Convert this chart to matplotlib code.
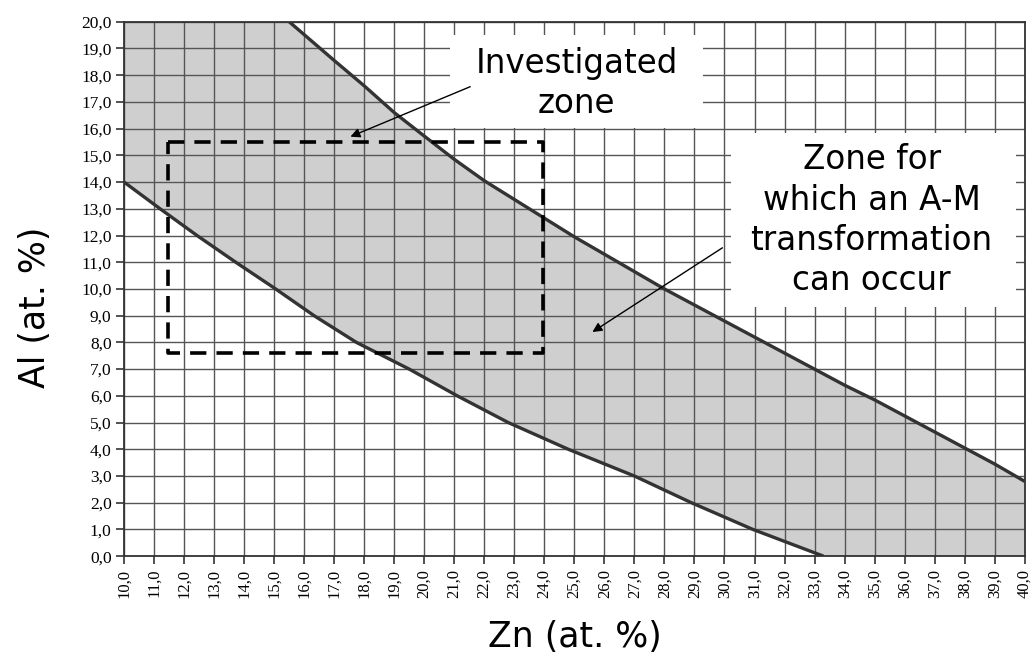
import matplotlib
matplotlib.use("Agg")
import matplotlib.pyplot as plt
from matplotlib.patches import Rectangle

# ---- data ----
lower_x = [10.0, 11.2, 12.43, 13.72, 15.05, 16.33, 17.74, 19.5, 21.1, 22.8, 24.8, 27.0, 28.9, 30.95, 33.3]
lower_y = [14.0, 13.0, 12.0, 11.0, 10.0, 9.0, 8.0, 7.0, 6.0, 5.0, 4.0, 3.0, 2.0, 1.0, 0.0]

upper_x = [15.5, 17.0, 18.0, 19.0, 20.0, 21.0, 22.0, 23.0, 24.0, 25.0, 26.0, 27.0, 28.0, 29.0, 30.0,
           31.0, 32.0, 33.0, 34.0, 35.0, 36.0, 37.0, 38.0, 39.0, 40.0]
upper_y = [20.0, 18.55, 17.6, 16.6, 15.72, 14.85, 14.05, 13.35, 12.65, 11.95, 11.3, 10.65, 10.0, 9.4, 8.8,
           8.2, 7.6, 7.0, 6.4, 5.85, 5.25, 4.65, 4.05, 3.45, 2.8]

investigated_zn = [11.45, 23.95]
investigated_al = [7.62, 15.5]

x_ticks = list(range(10, 41))
y_ticks = list(range(0, 21))

label_investigated = "Investigated\nzone"
label_am = "Zone for\nwhich an A-M\ntransformation\ncan occur"
xlabel = "Zn (at. %)"
ylabel = "Al (at. %)"

# ---- figure ----
fig = plt.figure(figsize=(10.34, 6.59), dpi=100)
ax = fig.add_axes([0.12, 0.156, 0.871, 0.811])
xmin, xmax, ymin, ymax = 10, 40, 0, 20
ax.set_xlim(xmin, xmax)
ax.set_ylim(ymin, ymax)

# shaded band
poly_x = list(lower_x) + [xmax] + upper_x[::-1] + [xmin]
poly_y = list(lower_y) + [ymin] + upper_y[::-1] + [ymax]
ax.fill(poly_x, poly_y, color="#cfcfcf", lw=0, zorder=1)

# grid
ax.set_xticks(x_ticks)
ax.set_yticks(y_ticks)
ax.grid(True, color="#555555", lw=1.0, zorder=2)
ax.set_axisbelow(False)
for gl in ax.get_xgridlines() + ax.get_ygridlines():
    gl.set_zorder(2)

# white label boxes (hide grid)
ax.add_patch(Rectangle((20.86, 16.03), 29.27 - 20.86, 19.51 - 16.03, facecolor="white",
                       edgecolor="none", zorder=3))
ax.add_patch(Rectangle((30.23, 9.33), 39.7 - 30.23, 15.84 - 9.33, facecolor="white",
                       edgecolor="none", zorder=3))

# curves
ax.plot(lower_x, lower_y, color="#333333", lw=2.4, zorder=4, solid_capstyle="butt")
ax.plot(upper_x, upper_y, color="#333333", lw=2.4, zorder=4, solid_capstyle="butt")

# dashed investigated rectangle
rx = [investigated_zn[0], investigated_zn[1], investigated_zn[1], investigated_zn[0], investigated_zn[0]]
ry = [investigated_al[1], investigated_al[1], investigated_al[0], investigated_al[0], investigated_al[1]]
ax.plot(rx, ry, color="black", lw=2.6, ls=(0, (4.5, 2.8)), zorder=5)

# texts
txt_font = ["DejaVu Sans"]
ax.text(25.08, 17.7, label_investigated, ha="center", va="center", fontsize=23.5,
        family=txt_font, linespacing=1.27, zorder=6)
ax.text(34.9, 12.58, label_am, ha="center", va="center", fontsize=23.5,
        family=txt_font, linespacing=1.27, zorder=6)

# arrows
ax.annotate("", xy=(17.54, 15.7), xytext=(21.53, 17.57),
            arrowprops=dict(arrowstyle="-|>", lw=1.0, color="black", mutation_scale=14,
                            shrinkA=0, shrinkB=0), zorder=7)
ax.annotate("", xy=(25.6, 8.39), xytext=(29.93, 11.54),
            arrowprops=dict(arrowstyle="-|>", lw=1.0, color="black", mutation_scale=14,
                            shrinkA=0, shrinkB=0), zorder=7)

# ticks / labels
ax.set_xticklabels([f"{v:.1f}".replace(".", ",") for v in x_ticks], rotation=90,
                   family=["Liberation Serif", "DejaVu Serif"], fontsize=12)
ax.set_yticklabels([f"{v:.1f}".replace(".", ",") for v in y_ticks],
                   family=["Liberation Serif", "DejaVu Serif"], fontsize=12.5)
ax.tick_params(axis="both", direction="out", length=6, width=1.2, color="#333333", pad=3)

for s in ax.spines.values():
    s.set_color("#333333")
    s.set_linewidth(1.3)
    s.set_zorder(8)

ax.set_xlabel(xlabel, fontsize=25, family=txt_font, labelpad=16)
ax.set_ylabel(ylabel, fontsize=25, family=txt_font)
ax.yaxis.set_label_coords(-0.08, 0.466)

fig.savefig("out.png", dpi=100)
